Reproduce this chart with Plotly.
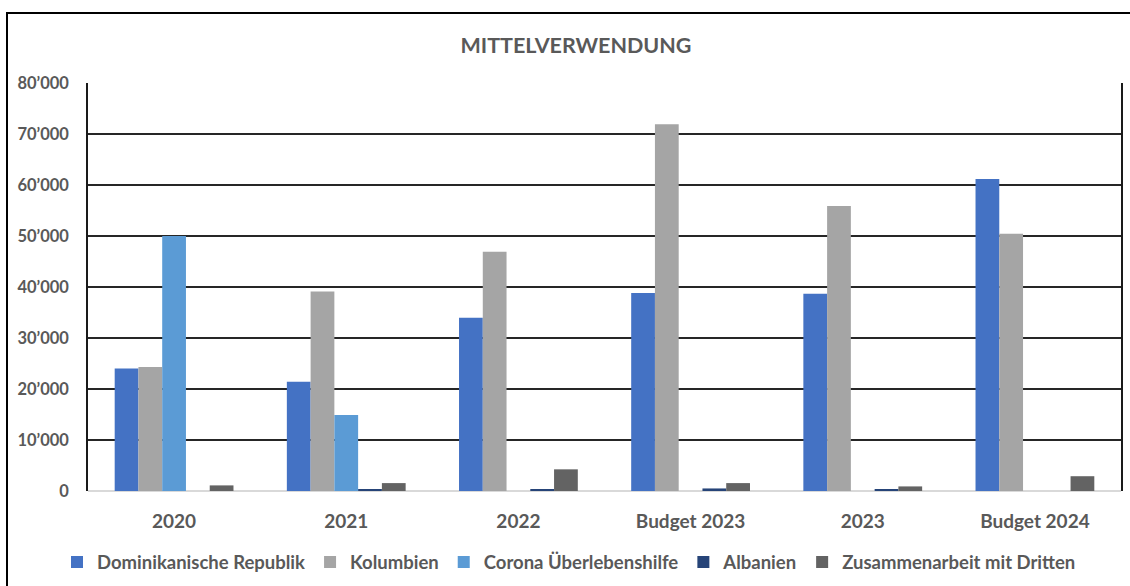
import plotly.graph_objects as go

categories = ["2020", "2021", "2022", "Budget 2023", "2023", "Budget 2024"]
dominikanische = [24000, 21400, 33950, 38800, 38700, 61200]
kolumbien = [24300, 39100, 46900, 71900, 55900, 50450]
corona = [50000, 14900, 0, 0, 0, 0]
albanien = [0, 250, 300, 500, 300, 0]
zusammenarbeit = [1100, 1550, 4250, 1550, 900, 2900]

series_names = ["Dominikanische Republik", "Kolumbien", "Corona Überlebenshilfe",
                "Albanien", "Zusammenarbeit mit Dritten"]
series_values = [dominikanische, kolumbien, corona, albanien, zusammenarbeit]
series_colors = ["#4472C4", "#A5A5A5", "#5B9BD5", "#264478", "#636363"]

tick_vals = [0, 10000, 20000, 30000, 40000, 50000, 60000, 70000, 80000]
tick_text = ["0", "10’000", "20’000", "30’000", "40’000", "50’000", "60’000", "70’000", "80’000"]

FONT = "Lato"
GREY = "#595959"

fig = go.Figure()
for name, vals, col in zip(series_names, series_values, series_colors):
    fig.add_trace(go.Bar(x=categories, y=vals, name=name,
                         marker=dict(color=col, line=dict(width=0))))

W, H = 1130, 586
L, R, T, B = 88, 1121, 83, 491.5
pw, ph = R - L, B - T

def px(x):
    return (x - L) / pw

def py(y):
    return (B - y) / ph

fig.update_layout(
    width=W, height=H,
    margin=dict(l=L, r=W - R, t=T, b=H - B, autoexpand=False),
    paper_bgcolor="white", plot_bgcolor="white",
    barmode="group", bargap=0.31, bargroupgap=0,
    font=dict(family=FONT, color=GREY),
    title=dict(text="MITTELVERWENDUNG", x=576 / W, xanchor="center",
               y=1 - 45 / H, yanchor="middle",
               font=dict(family=FONT, size=21.5, color=GREY, weight="bold")),
    legend=dict(orientation="h", x=px(57), xanchor="left", y=py(563), yanchor="middle",
                font=dict(family=FONT, size=18.5, color=GREY, weight="bold"), itemwidth=30,
                traceorder="normal", bgcolor="rgba(0,0,0,0)"),
    xaxis=dict(showgrid=False, showline=False, ticks="",
               tickfont=dict(family=FONT, size=19, color=GREY, weight="bold"),
               ticklabelstandoff=17),
    yaxis=dict(range=[0, 80000], tickvals=tick_vals, ticktext=tick_text,
               showgrid=True, gridcolor="#262626", gridwidth=1.6,
               zeroline=True, zerolinecolor="#D9D9D9", zerolinewidth=1.6,
               showline=True, linecolor="#1a1a1a", linewidth=1.6, mirror=True,
               ticks="", tickfont=dict(family=FONT, size=16.5, color=GREY, weight="bold"),
               ticklabelstandoff=14),
    shapes=[dict(type="rect", xref="paper", yref="paper",
                 x0=px(7), x1=px(1145), y0=py(600), y1=py(13),
                 line=dict(color="black", width=2), layer="below")],
)

fig.write_html("out.html")
